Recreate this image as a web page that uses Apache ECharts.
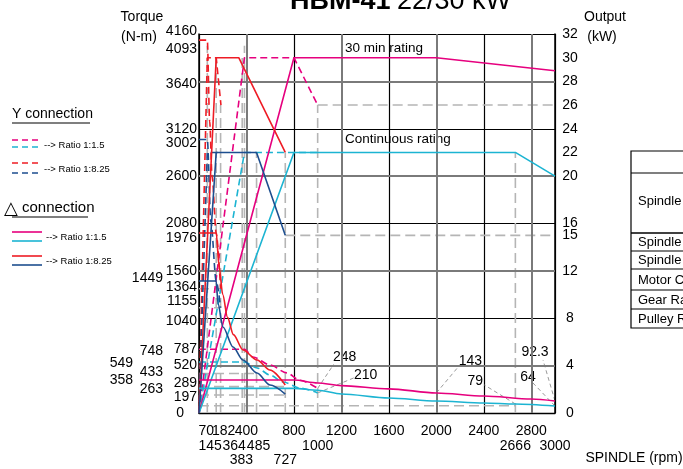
<!DOCTYPE html>
<html>
<head>
<meta charset="utf-8">
<script src="https://cdn.jsdelivr.net/npm/echarts@6/dist/echarts.min.js"></script>
<style>
html, body { margin: 0; padding: 0; background: #fff; }
#c { width: 683px; height: 469px; }
</style>
</head>
<body>
<div id="c"></div>
<script>
// ---- data: power curves [rpm, kW] (right axis) ----
var dMag30   = [[0, 0], [800, 30], [2000, 30], [3000, 28.9]];
var dCyaCont = [[0, 0], [800, 22], [2666, 22], [3000, 20]];
var dRed30   = [[0, 0], [145, 30], [335, 30], [727, 22]];
var dBluCont = [[0, 0], [145, 22], [485, 22], [727, 15]];
var yMag30   = [[0, 0], [383, 30], [800, 30], [1000, 26]];
var yCyaCont = [[0, 0], [383, 22], [1000, 22]];
var yRed30   = [[0, 0], [70, 30], [145, 30], [185, 26]];
var yBluCont = [[0, 0], [70, 22], [182, 22]];

// ---- data: torque curves [rpm, N-m] (left axis) ----
var tMag30    = [[0, 362], [800, 362], [1000, 330], [1200, 300], [1600, 265], [2000, 220], [2400, 187], [2800, 154], [3000, 132]];
var tCyaCont  = [[0, 270], [800, 270], [1000, 250], [1200, 209], [1600, 165], [2000, 132], [2400, 110], [2666, 99], [3000, 77]];
var tRed30    = [[0, 1976], [145, 1976], [170, 1600], [200, 1300], [240, 1050], [290, 860], [371, 692], [489, 582], [598, 472], [727, 307]];
var tBluCont  = [[0, 1449], [145, 1449], [160, 1200], [202, 944], [287, 724], [371, 582], [489, 439], [598, 307], [727, 208]];
var tYMag30   = [[0, 700], [383, 700], [455, 615], [600, 527], [740, 440], [850, 360], [1000, 270]];
var tYCyaCont = [[0, 560], [383, 560], [490, 494], [598, 417], [710, 340], [850, 274], [1000, 220]];
var tYRed30   = [[0, 4093], [70, 4093], [90, 3200], [110, 2600], [145, 1976], [182, 1364]];
var tYBluCont = [[0, 3002], [70, 3002], [100, 2100], [145, 1449], [182, 1155]];

// ---- reference (grey dashed) lines ----
var guideRpm = [70, 145, 182, 364, 383, 485, 727, 1000, 2666];
var guideTopKw = [31, 30, 26, 30, 31, 22, 22, 26, 22];
var guideKw = [26, 15];
var guideKwFrom = [1000, 727];
var guideTorque = [1364, 1155, 433, 289, 197, 79];
var guideTorqueTo = [182, 182, 485, 727, 727, 2666];

// ---- tick labels ----
var torqueTicks1 = [4160, 4093, 3640, 3120, 3002, 2600, 2080, 1976, 1560, 1364, 1155, 1040, 787, 520, 289, 197, 0];
var torqueTicks2 = [1449, 748, 433, 263];
var torqueTicks3 = [549, 358];
var rpmTicks1 = [70, 182, 400, 800, 1200, 1600, 2000, 2400, 2800];
var rpmTicks2 = [145, 364, 485, 1000, 2666, 3000];
var rpmTicks3 = [383, 727];
var kwTicks = [32, 30, 28, 26, 24, 22, 20, 16, 15, 12, 8, 4, 0];

// ---- end-point notes ----
var noteText = ['248', '210', '143', '79', '92.3', '64'];
var noteRpm = [1000, 1000, 2000, 2666, 3000, 3000];
var noteTorque = [270, 220, 220, 99, 132, 77];

// layout tweaks (pixels) so crowded labels do not collide
var nudgeY = {4160: -3, 4093: 9, 3640: 3, 3002: 4, 1976: 5, 1364: -2, 1155: -7, 1040: 3, 787: 8, 289: -4, 197: 2, 1449: -3, 748: 6, 433: -1};
var nudgeX = {70: -1, 182: 3, 145: -6, 364: -8, 485: 2, 383: -3};
var noteOff = [[27, -31, 16, -24], [48, -18, 36, -15], [34, -32, 21, -25], [-40, -23, -31, -19], [-20, -49, -12, -41], [-27, -29, -22, -23]];

var FONT = '"Liberation Sans", Arial, sans-serif';
var MAG = '#e6007e', CYA = '#1cb4d2', RED = '#ee1c25', BLU = '#1d4e8f', GUIDE = '#b5b5b5', GREY = '#7a7a7a';

var chart = echarts.init(document.getElementById('c'));

function curve(data, color, dashed, yi) {
    return {
        type: 'line', data: data, yAxisIndex: yi, symbol: 'none', z: 5,
        smooth: yi === 0 ? 0.3 : false, smoothMonotone: 'x', silent: true,
        lineStyle: {color: color, width: 1.6, type: dashed ? [7, 4] : 'solid'}
    };
}
function guide(data, yi) {
    return {
        type: 'line', data: data, yAxisIndex: yi, symbol: 'none', z: 3, silent: true,
        lineStyle: {color: GUIDE, width: 1.6, type: [10, 5]}
    };
}

var series = [];
// grey (thicker) grid lines
series.push({
    type: 'line', data: [[0, 0], [0, 0]], yAxisIndex: 1, symbol: 'none', z: 1, silent: true,
    lineStyle: {width: 0},
    markLine: {
        silent: true, symbol: 'none', label: {show: false}, animation: false,
        lineStyle: {color: GREY, width: 2, type: 'solid'},
        data: [{xAxis: 400}, {xAxis: 1200}, {xAxis: 2000}, {xAxis: 2800},
               {yAxis: 4}, {yAxis: 12}, {yAxis: 20}, {yAxis: 28}]
    }
});
for (var i = 0; i < guideRpm.length; i++) {
    series.push(guide([[guideRpm[i], 0], [guideRpm[i], guideTopKw[i]]], 1));
}
for (var i = 0; i < guideKw.length; i++) {
    series.push(guide([[guideKwFrom[i], guideKw[i]], [3000, guideKw[i]]], 1));
}
for (var i = 0; i < guideTorque.length; i++) {
    series.push(guide([[0, guideTorque[i]], [guideTorqueTo[i], guideTorque[i]]], 0));
}
// Y connection (dashed)
series.push(curve(yMag30, MAG, true, 1));
series.push(curve(yCyaCont, CYA, true, 1));
series.push(curve(yRed30, RED, true, 1));
series.push(curve(yBluCont, BLU, true, 1));
series.push(curve(tYMag30, MAG, true, 0));
series.push(curve(tYCyaCont, CYA, true, 0));
series.push(curve(tYRed30, RED, true, 0));
series.push(curve(tYBluCont, BLU, true, 0));
// delta connection (solid)
series.push(curve(dMag30, MAG, false, 1));
series.push(curve(dCyaCont, CYA, false, 1));
series.push(curve(dRed30, RED, false, 1));
series.push(curve(dBluCont, BLU, false, 1));
series.push(curve(tMag30, MAG, false, 0));
series.push(curve(tCyaCont, CYA, false, 0));
series.push(curve(tRed30, RED, false, 0));
series.push(curve(tBluCont, BLU, false, 0));

var option = {
    animation: false,
    grid: {left: 199, right: 128, top: 34, bottom: 56},
    xAxis: {
        type: 'value', min: 0, max: 3000, interval: 800,
        axisLine: {show: true, lineStyle: {color: '#000', width: 1.3}},
        axisTick: {show: false}, axisLabel: {show: false},
        splitLine: {show: true, lineStyle: {color: '#000', width: 1.2}}
    },
    yAxis: [{
        type: 'value', min: 0, max: 4160, interval: 520, position: 'left',
        axisLine: {show: true, lineStyle: {color: '#000', width: 1.5}},
        axisTick: {show: false}, axisLabel: {show: false}, splitLine: {show: false}
    }, {
        type: 'value', min: 0, max: 32, interval: 8, position: 'right',
        axisLine: {show: true, lineStyle: {color: '#000', width: 1.5}},
        axisTick: {show: false},
        axisLabel: {customValues: kwTicks, color: '#000', fontSize: 14, fontFamily: FONT, margin: 15, align: 'center'},
        splitLine: {show: true, lineStyle: {color: '#000', width: 1.2}}
    }],
    series: series
};
chart.setOption(option);

// ---- text & decorations placed from the axes ----
function px(x, y, yi) {
    return chart.convertToPixel({xAxisIndex: 0, yAxisIndex: yi}, [x, y]);
}
function txt(x, y, s, size, align, extra) {
    var st = {text: s, x: x, y: y, fill: '#000', font: (size || 14) + 'px ' + FONT,
        align: align || 'left', verticalAlign: 'middle'};
    if (extra) for (var k in extra) st[k] = extra[k];
    return {type: 'text', silent: true, style: st};
}
function seg(x1, y1, x2, y2, color, w, dash) {
    return {type: 'line', silent: true, shape: {x1: x1, y1: y1, x2: x2, y2: y2},
        style: {stroke: color, lineWidth: w || 1, lineDash: dash || null}};
}

var g = [];
// torque labels, three columns
[[torqueTicks1, 197], [torqueTicks2, 163], [torqueTicks3, 133]].forEach(function (col) {
    col[0].forEach(function (v) {
        var p = px(0, v, 0);
        var dx = v === 0 ? -13 : 0;
        g.push(txt(col[1] + dx, p[1] + (nudgeY[v] || 0), String(v), 14, 'right'));
    });
});
// rpm labels, three rows
[[rpmTicks1, 431], [rpmTicks2, 446], [rpmTicks3, 460]].forEach(function (row) {
    row[0].forEach(function (v) {
        var p = px(v, 0, 0);
        g.push(txt(p[0] + (nudgeX[v] || 0), row[1], String(v), 14, 'center'));
    });
});
// end-point notes with leader lines
for (var i = 0; i < noteText.length; i++) {
    var p = px(noteRpm[i], noteTorque[i], 0);
    var o = noteOff[i];
    g.push(seg(p[0], p[1], p[0] + o[2], p[1] + o[3], '#999', 1, [4, 3]));
    g.push(txt(p[0] + o[0], p[1] + o[1], noteText[i], 14, 'center'));
}
// axis titles
g.push(txt(142, 17, 'Torque', 14, 'center'));
g.push(txt(139, 37, '(N-m)', 14, 'center'));
g.push(txt(605, 17, 'Output', 14, 'center'));
g.push(txt(602, 37, '(kW)', 14, 'center'));
g.push(txt(634, 458, 'SPINDLE (rpm)', 14, 'center'));
g.push(txt(345, 48, '30 min rating', 13.5, 'left'));
g.push(txt(345, 139, 'Continuous rating', 13.5, 'left'));
// title (top is cut by the frame)
g.push(txt(290, 2, 'HBM-41', 27, 'left', {font: 'bold 27px ' + FONT}));
g.push(txt(397, 2, '22/30 kW', 27, 'left'));

// legend
g.push(txt(12, 114, 'Y connection', 14, 'left'));
g.push(seg(12, 123, 90, 123, '#000', 1.2));
g.push(seg(12, 140, 38, 140, MAG, 1.6, [6, 4]));
g.push(seg(12, 147, 38, 147, CYA, 1.6, [6, 4]));
g.push(txt(44, 145, '--> Ratio 1:1.5', 9.5, 'left'));
g.push(seg(12, 163, 38, 163, RED, 1.6, [6, 4]));
g.push(seg(12, 173, 38, 173, BLU, 1.6, [6, 4]));
g.push(txt(44, 169, '--> Ratio 1:8.25', 9.5, 'left'));
g.push(txt(4, 209, '\u25B3', 18, 'left', {font: 'bold 18px "DejaVu Sans", sans-serif'}));
g.push(txt(22, 208, 'connection', 15, 'left'));
g.push(seg(12, 217, 88, 217, '#000', 1.2));
g.push(seg(12, 232, 42, 232, MAG, 1.6));
g.push(seg(12, 241, 42, 241, CYA, 1.6));
g.push(txt(46, 237, '--> Ratio 1:1.5', 9.5, 'left'));
g.push(seg(12, 256, 42, 256, RED, 1.6));
g.push(seg(12, 265, 42, 265, BLU, 1.6));
g.push(txt(46, 261, '--> Ratio 1:8.25', 9.5, 'left'));

// spec table at the right edge
g.push({type: 'rect', silent: true, shape: {x: 631, y: 151, width: 80, height: 177},
    style: {fill: 'none', stroke: '#000', lineWidth: 1.2}});
[173, 233, 251, 269, 290, 309].forEach(function (yy) {
    g.push(seg(631, yy, 690, yy, '#000', yy === 233 ? 1.6 : 1.2));
});
g.push(txt(638, 201, 'Spindle speed', 13, 'left'));
g.push(txt(638, 242, 'Spindle torque', 13, 'left'));
g.push(txt(638, 260, 'Spindle power', 13, 'left'));
g.push(txt(638, 280, 'Motor Connection', 13, 'left'));
g.push(txt(638, 300, 'Gear Ratio', 13, 'left'));
g.push(txt(638, 319, 'Pulley Ratio', 13, 'left'));

chart.setOption({graphic: g});
</script>
</body>
</html>
